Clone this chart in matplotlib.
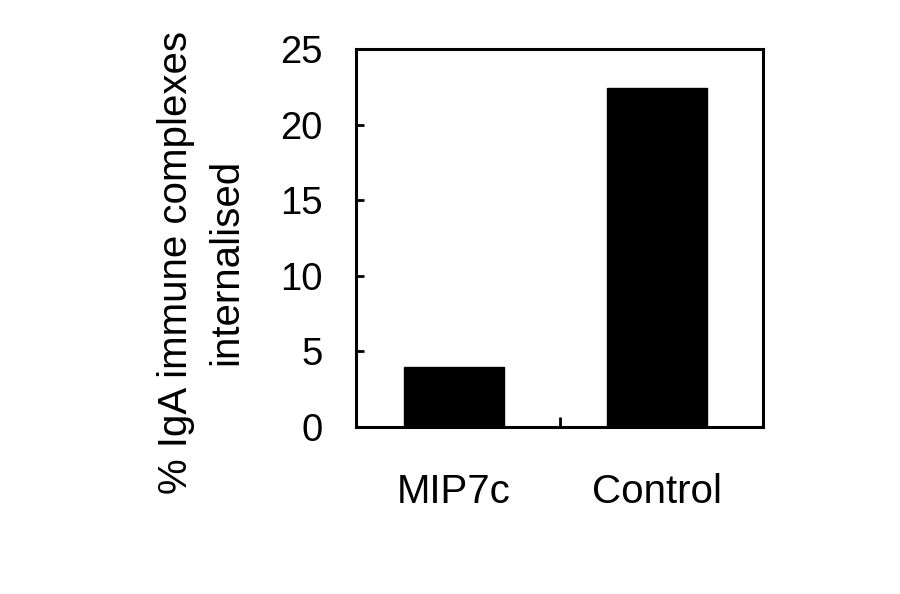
import matplotlib
matplotlib.use("Agg")
import matplotlib.pyplot as plt

# values
categories = ["MIP7c", "Control"]
internalised = [4.0, 22.4]
yticks = [0, 5, 10, 15, 20, 25]

plt.rcParams['font.family'] = ['Liberation Sans', 'DejaVu Sans']

fig = plt.figure(figsize=(9, 5.94), dpi=100)
ax = fig.add_axes([0.3956, 0.2811, 0.4522, 0.6364])

x = list(range(len(categories)))
ax.bar(x, internalised, width=0.49, color="black", edgecolor="black")

ax.set_xlim(-0.48, 1.52)
ax.set_ylim(0, 25)
ax.set_yticks(yticks)
ax.set_xticks(x)
ax.set_xticklabels(categories)
# small separator tick between the two categories
ax.set_xticks([0.52], minor=True)

for sp in ax.spines.values():
    sp.set_linewidth(2.2)

ax.tick_params(axis="y", direction="in", length=6, width=2, pad=24, labelsize=27.5)
ax.tick_params(axis="x", which="major", length=0, pad=33, labelsize=29)
ax.tick_params(axis="x", which="minor", direction="in", length=7, width=2)

fig.text(201 / 900, 1 - 262 / 594, "% IgA immune complexes\ninternalised",
         rotation=90, ha="center", va="center", multialignment="center",
         fontsize=29, linespacing=1.4)

fig.savefig("out.png", dpi=100)
